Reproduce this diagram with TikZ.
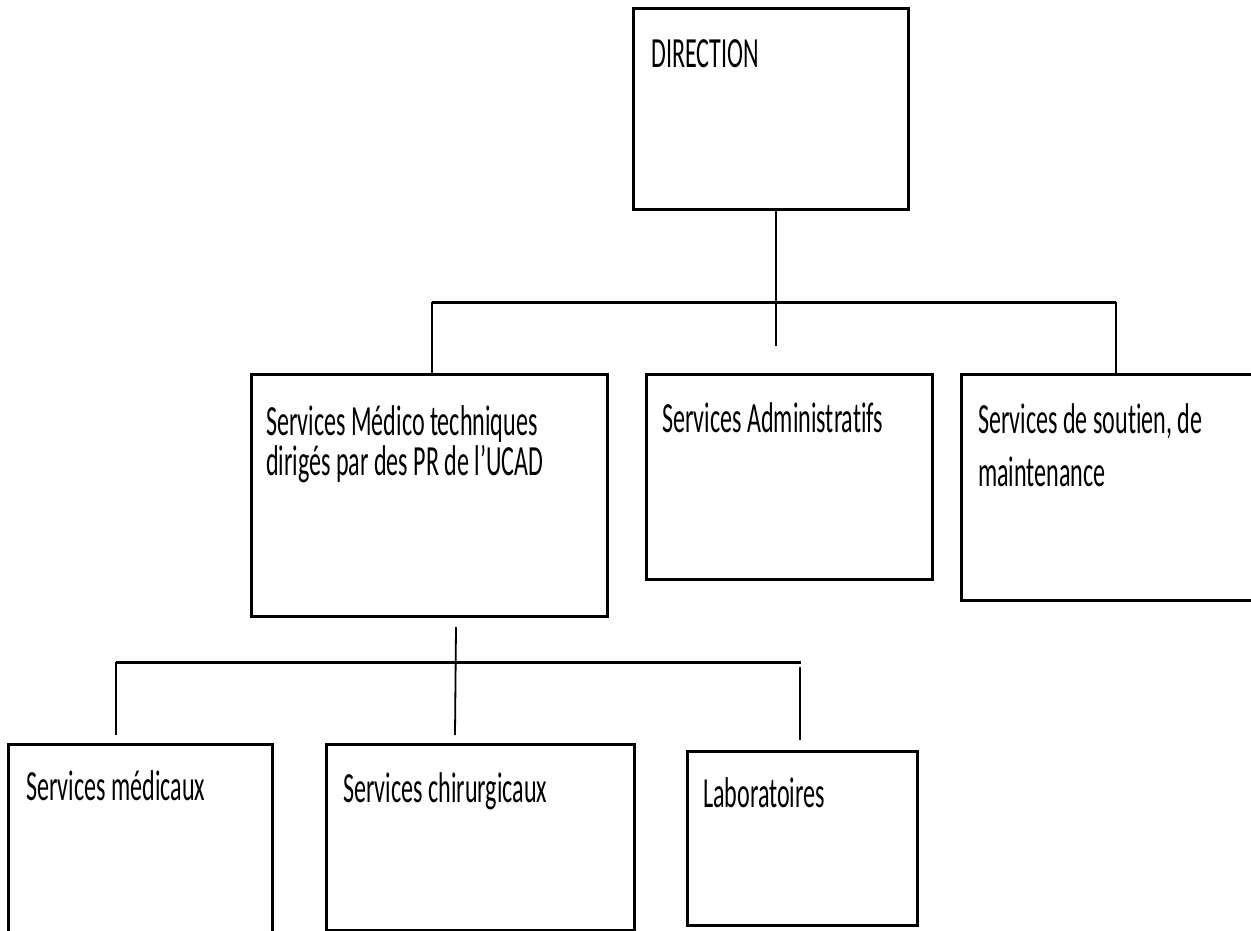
\documentclass[tikz,border=0pt]{standalone}
\usepackage{fontspec}
\setmainfont{Carlito}[Ligatures=CommonOff]
\usepackage{graphicx}
\usetikzlibrary{positioning}

% narrow lettering, as in the scanned chart
\newcommand{\narrow}[1]{\scalebox{0.56}[1]{#1}}
% keeps t and i apart (no ligature)
\newcommand{\ti}{t\kern0pt i}

\begin{document}
\begin{tikzpicture}[x=1pt, y=-1pt,
    box/.style n args={2}{draw, line width=3pt, minimum width=#1, minimum height=#2,
        anchor=north west, inner sep=0pt, outer sep=0pt},
    lbl/.style={anchor=base west, align=left, inner sep=0pt,
        font=\fontsize{43}{40}\selectfont},
    link/.style={line width=1.8pt},
    bus/.style={line width=3pt}
]

\useasboundingbox (0,0) rectangle (1251,931);
\clip (0,0) rectangle (1251,931);

% Direction
\node[box={275pt}{200pt}] (dir) at (633,9) {};
\node[lbl] (dirtxt) at ([shift={(18,59)}]dir.north west) {\narrow{DIRECTION}};

% First level (base anchor sits on the last line)
\node[box={356pt}{242pt}] (med) at (251,374) {};
\node[lbl] (medtxt) at ([shift={(15,101)}]med.north west)
    {\narrow{Services Médico techniques}\\\narrow{dirigés par des PR de l’UCAD}};

\node[box={286pt}{205pt}] (adm) at (646,374) {};
\node[lbl] (admtxt) at ([shift={(16,58)}]adm.north west) {\narrow{Services Administra\ti fs}};

\node[box={320pt}{226pt}] (sou) at (961,374) {};
\node[lbl] (soutxt) at ([shift={(17,112)}]sou.north west)
    {\narrow{Services de sou\ti en, de}\\[13pt]\narrow{maintenance}};

% Second level
\node[box={264pt}{220pt}] (mdx) at (8,744) {};
\node[lbl] (mdxtxt) at ([shift={(18,56)}]mdx.north west) {\narrow{Services médicaux}};

\node[box={308pt}{186pt}] (chir) at (326,744) {};
\node[lbl] (chirtxt) at ([shift={(17,58)}]chir.north west) {\narrow{Services chirurgicaux}};

\node[box={230pt}{174pt}] (lab) at (687,751) {};
\node[lbl] (labtxt) at ([shift={(16,56)}]lab.north west) {\narrow{Laboratoires}};

% Links from the direction
\coordinate (dirend) at (776,346);
\coordinate (busw) at (432,302);
\coordinate (buse) at (1116,302);
\draw[link] (dirend |- dir.south) -- (dirend);
\draw[bus] (busw) -- (buse);
\draw[link] (busw) -- (busw |- med.north);
\draw[link] (buse) -- (buse |- sou.north);

% Links below the medico-technical services
\coordinate (medtop) at (456,627);
\coordinate (medend) at (455,735);
\coordinate (bustw) at (116,662);
\coordinate (buste) at (801,662);
\coordinate (mdxend) at (116,735);
\coordinate (labtop) at (800,667);
\coordinate (labend) at (800,740);
\draw[link] (medtop) -- (medend);
\draw[bus] (bustw) -- (buste);
\draw[link] (bustw) -- (mdxend);
\draw[link] (labtop) -- (labend);

\end{tikzpicture}
\end{document}
